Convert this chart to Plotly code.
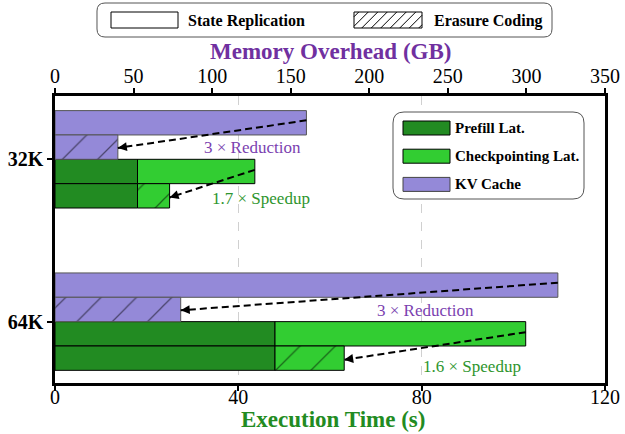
import plotly.graph_objects as go

# ---------------- data ----------------
categories = ["32K", "64K"]
kv_sr = [160, 320]          # KV cache memory, State Replication (GB)
kv_ec = [40, 80]            # KV cache memory, Erasure Coding (GB)
prefill = [18.0, 48.0]      # prefill latency (s)
ckpt_sr = [25.6, 54.7]      # checkpointing latency, State Replication (s)
ckpt_ec = [7.0, 15.1]       # checkpointing latency, Erasure Coding (s)
reduction_labels = ["3 × Reduction", "3 × Reduction"]
speedup_labels = ["1.7 × Speedup", "1.6 × Speedup"]
time_ticks = [0, 40, 80, 120]
mem_ticks = [0, 50, 100, 150, 200, 250, 300, 350]

# ---------------- styling ----------------
FONT = "Liberation Serif, Tinos, Times New Roman, Times, DejaVu Serif, serif"
PURPLE_BAR = "#9489d8"
DARK_GREEN = "#228b22"
LIGHT_GREEN = "#32cd32"
PURPLE_TEXT = "#7030a0"
PURPLE_NOTE = "#7b3fb0"
GREEN_TEXT = "#228b22"
GREEN_NOTE = "#2e952e"

W, H = 625, 434
PL, PR, PT, PB = 55, 605, 96, 383   # plot area in page pixels
BAR_W = 0.15
Y_TOP, Y_BOT = -0.39, 1.378
T_MAX, M_MAX = 120, 350

ypos = list(range(len(categories)))
lat_total_sr = [p + c for p, c in zip(prefill, ckpt_sr)]
lat_total_ec = [p + c for p, c in zip(prefill, ckpt_ec)]

hatch = dict(shape="/", fgcolor="black", size=25, solidity=0.05, fillmode="overlay")

fig = go.Figure()
# KV cache bars (top axis)
fig.add_trace(go.Bar(y=ypos, x=kv_sr, orientation="h", xaxis="x2", yaxis="y",
                     width=BAR_W, offset=-2 * BAR_W, showlegend=False,
                     marker=dict(color=PURPLE_BAR, line=dict(color="#555555", width=1))))
fig.add_trace(go.Bar(y=ypos, x=kv_ec, orientation="h", xaxis="x2", yaxis="y",
                     width=BAR_W, offset=-BAR_W, showlegend=False,
                     marker=dict(color=PURPLE_BAR, pattern=hatch,
                                 line=dict(color="#555555", width=1))))
# Latency bars (bottom axis)
fig.add_trace(go.Bar(y=ypos, x=prefill, base=[0] * len(ypos), orientation="h",
                     width=BAR_W, offset=0, showlegend=False,
                     marker=dict(color=DARK_GREEN, line=dict(color="black", width=1))))
fig.add_trace(go.Bar(y=ypos, x=ckpt_sr, base=prefill, orientation="h",
                     width=BAR_W, offset=0, showlegend=False,
                     marker=dict(color=LIGHT_GREEN, line=dict(color="black", width=1))))
fig.add_trace(go.Bar(y=ypos, x=prefill, base=[0] * len(ypos), orientation="h",
                     width=BAR_W, offset=BAR_W, showlegend=False,
                     marker=dict(color=DARK_GREEN, line=dict(color="black", width=1))))
fig.add_trace(go.Bar(y=ypos, x=ckpt_ec, base=prefill, orientation="h",
                     width=BAR_W, offset=BAR_W, showlegend=False,
                     marker=dict(color=LIGHT_GREEN, pattern=hatch,
                                 line=dict(color="black", width=1))))

shapes = []
annotations = []

# px scale for arrowhead direction
sx_t = (PR - PL) / T_MAX
sx_m = (PR - PL) / M_MAX
sy = (PB - PT) / (Y_BOT - Y_TOP)


def add_arrow(xref, sx, x_start, y_start, x_end, y_end):
    shapes.append(dict(type="line", xref=xref, yref="y", x0=x_start, y0=y_start,
                       x1=x_end, y1=y_end, line=dict(color="black", width=2, dash="7px,4px")))
    dx = (x_start - x_end) * sx
    dy = (y_start - y_end) * sy
    n = (dx * dx + dy * dy) ** 0.5
    annotations.append(dict(x=x_end, y=y_end, xref=xref, yref="y", text="",
                            showarrow=True, arrowhead=2, arrowsize=1, arrowwidth=1.8,
                            arrowcolor="black", ax=dx / n * 10, ay=dy / n * 10,
                            axref="pixel", ayref="pixel"))


for i, y in enumerate(ypos):
    add_arrow("x2", sx_m, kv_sr[i], y - 2 * BAR_W + 0.06, kv_ec[i], y - BAR_W + 0.08)
    add_arrow("x", sx_t, lat_total_sr[i], y + 0.065, lat_total_ec[i], y + BAR_W + 0.085)

# annotation labels
red_pos = [(125.5, -0.074), (235.5, -0.068)]
spd_pos = [(45.0, 0.24), (91.0, 0.277)]
for i, y in enumerate(ypos):
    annotations.append(dict(x=red_pos[i][0], y=y + red_pos[i][1], xref="x2", yref="y",
                            text=reduction_labels[i], showarrow=False,
                            font=dict(family=FONT, size=17, color=PURPLE_NOTE)))
    annotations.append(dict(x=spd_pos[i][0], y=y + spd_pos[i][1], xref="x", yref="y",
                            text=speedup_labels[i], showarrow=False,
                            font=dict(family=FONT, size=17, color=GREEN_NOTE)))


# ---------------- manual legends / titles (page pixel helpers) ----------------
def fx(px):
    return (px - PL) / (PR - PL)


def fy(py):
    return (PB - py) / (PB - PT)


def rrect(x0, y0, x1, y1, r):
    def P(x, y):
        return f"{fx(x):.5f},{fy(y):.5f}"
    return (f"M{P(x0 + r, y0)} L{P(x1 - r, y0)} Q{P(x1, y0)} {P(x1, y0 + r)} "
            f"L{P(x1, y1 - r)} Q{P(x1, y1)} {P(x1 - r, y1)} L{P(x0 + r, y1)} "
            f"Q{P(x0, y1)} {P(x0, y1 - r)} L{P(x0, y0 + r)} Q{P(x0, y0)} {P(x0 + r, y0)} Z")


def box(x0, y0, x1, y1, fill, line="black"):
    shapes.append(dict(type="rect", xref="paper", yref="paper", x0=fx(x0), x1=fx(x1),
                       y0=fy(y1), y1=fy(y0), fillcolor=fill,
                       line=dict(color=line, width=1)))


def hatch_box(x0, y0, x1, y1, step):
    c = x0 + y0 + step / 2
    while c < x1 + y1:
        xl = max(x0, c - y1)
        xu = min(x1, c - y0)
        if xu > xl:
            shapes.append(dict(type="line", xref="paper", yref="paper",
                               x0=fx(xl), y0=fy(c - xl), x1=fx(xu), y1=fy(c - xu),
                               line=dict(color="black", width=1)))
        c += step


def text(px, py, s, size, color="black", bold=True, xanchor="left"):
    annotations.append(dict(x=fx(px), y=fy(py), xref="paper", yref="paper", text=s,
                            showarrow=False, xanchor=xanchor, yanchor="middle",
                            font=dict(family=FONT, size=size, color=color,
                                      weight="bold" if bold else "normal")))


# top legend
shapes.append(dict(type="path", xref="paper", yref="paper", path=rrect(97, 3, 552, 37, 8),
                   fillcolor="white", line=dict(color="#555555", width=1)))
box(111, 12, 178, 28, "white")
hatch_box(354, 12, 422, 28, 9.5)
box(354, 12, 422, 28, "rgba(0,0,0,0)")
text(186, 20.5, "State Replication", 16)
text(432, 20.5, "Erasure Coding", 16)

# inner legend
shapes.append(dict(type="path", xref="paper", yref="paper", path=rrect(393, 112, 584, 199, 11),
                   fillcolor="white", line=dict(color="#555555", width=1)))
leg_items = [("Prefill Lat.", DARK_GREEN, "black"),
             ("Checkpointing Lat.", LIGHT_GREEN, "black"),
             ("KV Cache", PURPLE_BAR, "#444444")]
for k, (name, col, lc) in enumerate(leg_items):
    yc = 128 + k * 28.2
    box(403, yc - 7, 450, yc + 7, col, lc)
    text(453, yc, name, 15)

# axis titles
text((PL + PR) / 2 + 3, 419, "Execution Time (s)", 23, GREEN_TEXT, xanchor="center")
text((PL + PR) / 2, 51.5, "Memory Overhead (GB)", 23, PURPLE_TEXT, xanchor="center")

fig.update_layout(
    width=W, height=H,
    margin=dict(l=PL, r=W - PR, t=PT, b=H - PB, pad=0),
    template="none",
    plot_bgcolor="white", paper_bgcolor="white",
    barmode="overlay",
    showlegend=False,
    font=dict(family=FONT, size=20, color="black"),
    xaxis=dict(range=[0, T_MAX], tickvals=time_ticks, ticks="outside", ticklen=5,
               tickwidth=1.5, tickcolor="black", showline=True, linecolor="black",
               linewidth=2.5, mirror=True, showgrid=True, gridcolor="#d0d0d0",
               griddash="dash", gridwidth=1, zeroline=False, automargin=False,
               ticklabelstandoff=-11,
               tickfont=dict(family=FONT, size=20, color="black")),
    xaxis2=dict(range=[0, M_MAX], tickvals=mem_ticks, overlaying="x", side="top", anchor="y",
                ticks="outside", ticklen=5, tickwidth=1.5, tickcolor="black",
                showline=True, linecolor="black", linewidth=2.5, showgrid=False,
                zeroline=False, automargin=False, ticklabelstandoff=-3,
                tickfont=dict(family=FONT, size=20, color="black")),
    yaxis=dict(range=[Y_BOT, Y_TOP], tickvals=ypos, ticktext=categories, ticks="outside",
               ticklen=5, tickwidth=1.5, tickcolor="black", showline=True,
               linecolor="black", linewidth=2.5, mirror=True, showgrid=False,
               zeroline=False, automargin=False,
               tickfont=dict(family=FONT, size=20, color="black", weight="bold")),
    shapes=shapes,
    annotations=annotations,
)

fig.write_html("out.html", post_script="document.body.style.margin='0';",
               config={"displayModeBar": False})
